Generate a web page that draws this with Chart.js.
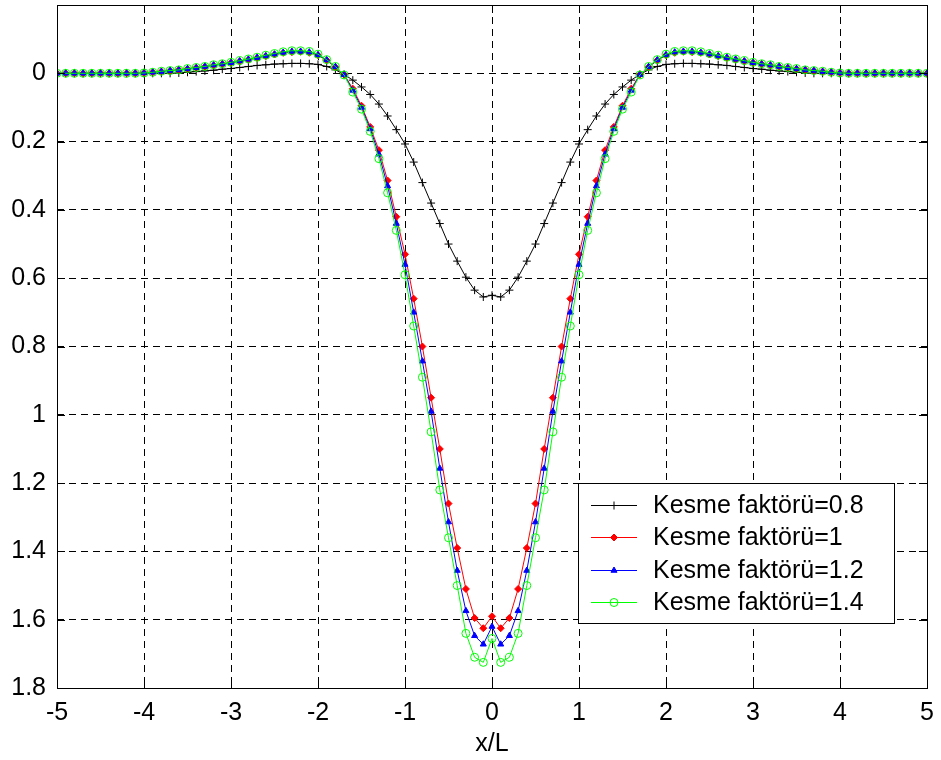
<!DOCTYPE html>
<html>
<head>
<meta charset="utf-8">
<title>Kesme faktörü</title>
<script src="https://cdn.jsdelivr.net/npm/chart.js@4/dist/chart.umd.min.js"></script>
<style>
    body { margin: 0; background: #ffffff; }
    #chart-wrap { width: 941px; height: 760px; }
</style>
</head>
<body>
<div id="chart-wrap">
    <canvas id="kesme-chart" width="941" height="760"></canvas>
</div>
<script>
// x/L
const xValues = [
    -5.0, -4.9, -4.8, -4.7, -4.6, -4.5, -4.4, -4.3, -4.2, -4.1,
    -4.0, -3.9, -3.8, -3.7, -3.6, -3.5, -3.4, -3.3, -3.2, -3.1,
    -3.0, -2.9, -2.8, -2.7, -2.6, -2.5, -2.4, -2.3, -2.2, -2.1,
    -2.0, -1.9, -1.8, -1.7, -1.6, -1.5, -1.4, -1.3, -1.2, -1.1,
    -1.0, -0.9, -0.8, -0.7, -0.6, -0.5, -0.4, -0.3, -0.2, -0.1,
    0.0,
    0.1, 0.2, 0.3, 0.4, 0.5, 0.6, 0.7, 0.8, 0.9, 1.0,
    1.1, 1.2, 1.3, 1.4, 1.5, 1.6, 1.7, 1.8, 1.9, 2.0,
    2.1, 2.2, 2.3, 2.4, 2.5, 2.6, 2.7, 2.8, 2.9, 3.0,
    3.1, 3.2, 3.3, 3.4, 3.5, 3.6, 3.7, 3.8, 3.9, 4.0,
    4.1, 4.2, 4.3, 4.4, 4.5, 4.6, 4.7, 4.8, 4.9, 5.0
];

const kesme08 = [
    0, 0, 0, 0, 0, 0, 0, 0, 0, 0,
    0, 0, 0, 0, -0.001, -0.003, -0.005, -0.007, -0.009, -0.012,
    -0.014, -0.017, -0.02, -0.023, -0.025, -0.027, -0.028, -0.029, -0.029, -0.028,
    -0.026, -0.02, -0.01, 0.003, 0.02, 0.04, 0.062, 0.09, 0.125, 0.165,
    0.207, 0.26, 0.32, 0.38, 0.44, 0.50, 0.55, 0.597, 0.635, 0.655,
    0.65,
    0.655, 0.635, 0.597, 0.55, 0.50, 0.44, 0.38, 0.32, 0.26, 0.207,
    0.165, 0.125, 0.09, 0.062, 0.04, 0.02, 0.003, -0.01, -0.02, -0.026,
    -0.028, -0.029, -0.029, -0.028, -0.027, -0.025, -0.023, -0.02, -0.017, -0.014,
    -0.012, -0.009, -0.007, -0.005, -0.003, -0.001, 0, 0, 0, 0,
    0, 0, 0, 0, 0, 0, 0, 0, 0, 0
];

const kesme10 = [
    0, 0, 0, 0, 0, 0, 0, 0, 0, 0,
    -0.001, -0.003, -0.005, -0.007, -0.01, -0.013, -0.016, -0.019, -0.023, -0.027,
    -0.031, -0.035, -0.04, -0.045, -0.05, -0.055, -0.06, -0.062, -0.063, -0.06,
    -0.053, -0.038, -0.018, 0.004, 0.045, 0.095, 0.157, 0.225, 0.314, 0.42,
    0.53, 0.66, 0.80, 0.95, 1.10, 1.26, 1.39, 1.51, 1.595, 1.625,
    1.59,
    1.625, 1.595, 1.51, 1.39, 1.26, 1.10, 0.95, 0.80, 0.66, 0.53,
    0.42, 0.314, 0.225, 0.157, 0.095, 0.045, 0.004, -0.018, -0.038, -0.053,
    -0.06, -0.063, -0.062, -0.06, -0.055, -0.05, -0.045, -0.04, -0.035, -0.031,
    -0.027, -0.023, -0.019, -0.016, -0.013, -0.01, -0.007, -0.005, -0.003, -0.001,
    0, 0, 0, 0, 0, 0, 0, 0, 0, 0
];

const kesme12 = [
    0, 0, 0, 0, 0, 0, 0, 0, 0, 0,
    -0.001, -0.003, -0.005, -0.008, -0.01, -0.013, -0.016, -0.02, -0.024, -0.027,
    -0.031, -0.036, -0.041, -0.046, -0.051, -0.056, -0.061, -0.064, -0.064, -0.062,
    -0.054, -0.039, -0.019, 0.004, 0.05, 0.10, 0.163, 0.237, 0.33, 0.44,
    0.56, 0.70, 0.843, 0.99, 1.157, 1.314, 1.456, 1.574, 1.647, 1.672,
    1.62,
    1.672, 1.647, 1.574, 1.456, 1.314, 1.157, 0.99, 0.843, 0.70, 0.56,
    0.44, 0.33, 0.237, 0.163, 0.10, 0.05, 0.004, -0.019, -0.039, -0.054,
    -0.062, -0.064, -0.064, -0.061, -0.056, -0.051, -0.046, -0.041, -0.036, -0.031,
    -0.027, -0.024, -0.02, -0.016, -0.013, -0.01, -0.008, -0.005, -0.003, -0.001,
    0, 0, 0, 0, 0, 0, 0, 0, 0, 0
];

const kesme14 = [
    0, 0, 0, 0, 0, 0, 0, 0, 0, 0,
    -0.001, -0.003, -0.006, -0.008, -0.01, -0.014, -0.017, -0.02, -0.025, -0.028,
    -0.032, -0.037, -0.042, -0.047, -0.053, -0.058, -0.063, -0.066, -0.066, -0.064,
    -0.056, -0.04, -0.02, 0.005, 0.055, 0.105, 0.17, 0.25, 0.35, 0.46,
    0.59, 0.74, 0.89, 1.05, 1.22, 1.36, 1.50, 1.64, 1.71, 1.725,
    1.655,
    1.725, 1.71, 1.64, 1.50, 1.36, 1.22, 1.05, 0.89, 0.74, 0.59,
    0.46, 0.35, 0.25, 0.17, 0.105, 0.055, 0.005, -0.02, -0.04, -0.056,
    -0.064, -0.066, -0.066, -0.063, -0.058, -0.053, -0.047, -0.042, -0.037, -0.032,
    -0.028, -0.025, -0.02, -0.017, -0.014, -0.01, -0.008, -0.006, -0.003, -0.001,
    0, 0, 0, 0, 0, 0, 0, 0, 0, 0
];

const seriesLabels = [
    'Kesme faktörü=0.8',
    'Kesme faktörü=1',
    'Kesme faktörü=1.2',
    'Kesme faktörü=1.4'
];

const xTicks = [-5, -4, -3, -2, -1, 0, 1, 2, 3, 4, 5];
const yTicks = [0, 0.2, 0.4, 0.6, 0.8, 1, 1.2, 1.4, 1.6, 1.8];

const FONT = "'Liberation Sans', Arial, sans-serif";

function toPoints(ys) {
    return xValues.map((x, i) => ({ x: x, y: ys[i] }));
}

function makeDataset(label, ys, color, style, radius, fillMarker, order) {
    return {
        label: label,
        data: toPoints(ys),
        borderColor: color,
        borderWidth: 1,
        pointStyle: style,
        pointRadius: radius,
        pointBorderColor: color,
        pointBorderWidth: 1,
        pointBackgroundColor: fillMarker ? color : 'rgba(0,0,0,0)',
        fill: false,
        tension: 0,
        order: order
    };
}

// MATLAB-ish axes box with inward ticks
const boxPlugin = {
    id: 'axesBox',
    afterDatasetsDraw(chart) {
        const { ctx, chartArea: a, scales } = chart;
        ctx.save();
        ctx.strokeStyle = '#000000';
        ctx.lineWidth = 1;
        ctx.setLineDash([]);
        ctx.beginPath();
        const tick = 8;
        xTicks.forEach(v => {
            const px = Math.round(scales.x.getPixelForValue(v)) + 0.5;
            ctx.moveTo(px, a.bottom); ctx.lineTo(px, a.bottom - tick);
            ctx.moveTo(px, a.top); ctx.lineTo(px, a.top + tick);
        });
        yTicks.forEach(v => {
            const py = Math.round(scales.y.getPixelForValue(v)) + 0.5;
            ctx.moveTo(a.left, py); ctx.lineTo(a.left + tick, py);
            ctx.moveTo(a.right, py); ctx.lineTo(a.right - tick, py);
        });
        ctx.stroke();
        ctx.strokeRect(Math.round(a.left) + 0.5, Math.round(a.top) + 0.5,
            Math.round(a.right - a.left), Math.round(a.bottom - a.top));
        ctx.restore();
    }
};

// legend box drawn inside the plot, lower right
const legendPlugin = {
    id: 'insideLegend',
    afterDraw(chart) {
        const { ctx, chartArea: a } = chart;
        const w = 316, h = 140;
        const right = a.right - 33;
        const bottom = a.bottom - 65;
        const left = right - w, top = bottom - h;
        ctx.save();
        ctx.fillStyle = '#ffffff';
        ctx.fillRect(left, top, w, h);
        ctx.strokeStyle = '#000000';
        ctx.lineWidth = 1;
        ctx.strokeRect(Math.round(left) + 0.5, Math.round(top) + 0.5, w, h);

        ctx.textBaseline = 'middle';
        ctx.textAlign = 'left';
        chart.data.datasets.forEach((ds, i) => {
            const cy = Math.round(top + 22 + i * 32.3) + 0.5;
            const x0 = left + 13, x1 = left + 59;
            ctx.strokeStyle = ds.borderColor;
            ctx.beginPath();
            ctx.moveTo(x0, cy);
            ctx.lineTo(x1, cy);
            ctx.stroke();
            ctx.fillStyle = ds.pointBackgroundColor;
            Chart.helpers.drawPoint(ctx, {
                pointStyle: ds.pointStyle,
                radius: ds.pointRadius,
                borderWidth: 1,
                rotation: 0
            }, (x0 + x1) / 2, cy);
            ctx.fillStyle = '#000000';
            ctx.font = '25px ' + FONT;
            ctx.fillText(ds.label, left + 75, cy + 1);
        });
        ctx.restore();
    }
};

function renderChart() {
    const ctx = document.getElementById('kesme-chart').getContext('2d');

    new Chart(ctx, {
        type: 'line',
        data: {
            datasets: [
                makeDataset(seriesLabels[0], kesme08, '#000000', 'cross', 4, false, 3),
                makeDataset(seriesLabels[1], kesme10, '#ff0000', 'rectRot', 3.5, true, 2),
                makeDataset(seriesLabels[2], kesme12, '#0000ff', 'triangle', 3.5, true, 1),
                makeDataset(seriesLabels[3], kesme14, '#00ff00', 'circle', 4, false, 0)
            ]
        },
        options: {
            responsive: false,
            animation: false,
            devicePixelRatio: 1,
            layout: {
                padding: { top: 3, right: 14, bottom: 0, left: 0 }
            },
            plugins: {
                legend: { display: false },
                tooltip: { enabled: false }
            },
            scales: {
                x: {
                    type: 'linear',
                    min: -5,
                    max: 5,
                    afterFit: scale => {
                        scale.height = 72;
                        scale.paddingLeft = 0;
                        scale.paddingRight = 0;
                    },
                    afterBuildTicks: scale => {
                        scale.ticks = xTicks.map(v => ({ value: v }));
                    },
                    ticks: {
                        color: '#000000',
                        padding: 10,
                        maxRotation: 0,
                        font: { family: FONT, size: 25 },
                        callback: v => String(v)
                    },
                    grid: {
                        color: '#000000',
                        lineWidth: 1,
                        drawTicks: false
                    },
                    border: { display: false, dash: [7, 5] },
                    title: {
                        display: true,
                        text: 'x/L',
                        color: '#000000',
                        padding: { top: 0, bottom: 1 },
                        font: { family: FONT, size: 25 }
                    }
                },
                y: {
                    type: 'linear',
                    reverse: true,
                    min: -0.2,
                    max: 1.8,
                    afterFit: scale => {
                        scale.width = 57;
                        scale.paddingTop = 0;
                        scale.paddingBottom = 0;
                    },
                    afterBuildTicks: scale => {
                        scale.ticks = [-0.2].concat(yTicks).map(v => ({ value: v }));
                    },
                    ticks: {
                        color: '#000000',
                        padding: 11,
                        font: { family: FONT, size: 25 },
                        callback: v => (v < -0.1 ? '' : String(Math.round(v * 10) / 10))
                    },
                    grid: {
                        color: '#000000',
                        lineWidth: 1,
                        drawTicks: false
                    },
                    border: { display: false, dash: [7, 5] }
                }
            }
        },
        plugins: [boxPlugin, legendPlugin]
    });
}

renderChart();
</script>
</body>
</html>
